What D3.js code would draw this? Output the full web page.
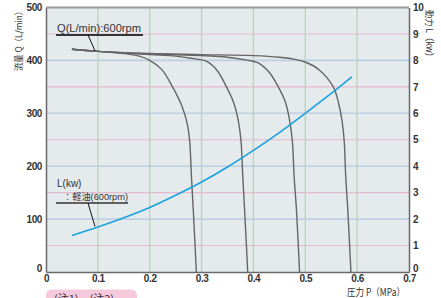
<!DOCTYPE html>
<html><head><meta charset="utf-8">
<script src="https://cdn.jsdelivr.net/npm/d3@7"></script>
<style>
html,body{margin:0;padding:0;background:#fff;}
svg{display:block;}
text{font-family:"Liberation Sans",Arial,"Noto Sans CJK JP",sans-serif;fill:#333;}
.cjk{font-family:"Noto Sans CJK JP",sans-serif;}
</style></head>
<body><svg id="c" width="441" height="298"></svg>
<script>
// ---- data ----
const xTicks = [0, 0.1, 0.2, 0.3, 0.4, 0.5, 0.6, 0.7];
const xTickLabels = ["0", "0.1", "0.2", "0.3", "0.4", "0.5", "0.6", "0.7"];
const yTicks = [0, 100, 200, 300, 400, 500];
const y2Ticks = [0, 1, 2, 3, 4, 5, 6, 7, 8, 9, 10];
const flow1 = [[0.05,421],[0.1,417],[0.15,413],[0.18,408],[0.2,400],[0.223,383],[0.244,350],[0.262,314],[0.272,282],[0.277,248],[0.2805,180],[0.284,117],[0.29,0]];
const flow2 = [[0.05,421],[0.1,417],[0.2,411],[0.25,408],[0.28,404],[0.31,398],[0.33,381],[0.348,350],[0.362,320],[0.371,285],[0.376,248],[0.3795,180],[0.383,117],[0.389,0]];
const flow3 = [[0.05,421],[0.1,417],[0.2,412],[0.3,409],[0.35,406],[0.385,401],[0.41,395],[0.43,378],[0.448,350],[0.462,320],[0.47,285],[0.475,248],[0.4785,180],[0.483,117],[0.489,0]];
const flow4 = [[0.05,421],[0.1,417],[0.2,413],[0.3,411],[0.4,409],[0.45,406],[0.48,402],[0.502,396],[0.527,382],[0.554,350],[0.564,320],[0.571,285],[0.575,248],[0.578,180],[0.582,117],[0.588,0]];
const powerL = [[0.05,1.38],[0.1,1.7],[0.15,2.05],[0.2,2.44],[0.25,2.9],[0.3,3.4],[0.35,3.97],[0.4,4.6],[0.45,5.27],[0.5,6.0],[0.55,6.75],[0.59,7.38]];

const svg = d3.select("#c");
const x = d3.scaleLinear().domain([0, 0.7]).range([46, 409]);
const y = d3.scaleLinear().domain([0, 500]).range([272, 7.5]);
const y2 = d3.scaleLinear().domain([0, 10]).range([272, 7.5]);

// background
svg.append("rect").attr("x", x(0)).attr("y", y(500)).attr("width", x(0.7)-x(0)).attr("height", y(0)-y(500)).attr("fill", "#e5eaed");

// grid
const hg = d3.range(50, 500, 50);
svg.append("g").selectAll("line").data(hg).join("line")
  .attr("x1", x(0)).attr("x2", x(0.7)).attr("y1", d=>y(d)).attr("y2", d=>y(d))
  .attr("stroke", d => d % 100 === 0 ? "#bccfe4" : "#e6b9cf").attr("stroke-width", d => d % 100 === 0 ? 1.6 : 1.1);
svg.append("g").selectAll("line").data(xTicks.slice(1, -1)).join("line")
  .attr("x1", d=>x(d)).attr("x2", d=>x(d)).attr("y1", y(500)).attr("y2", y(0))
  .attr("stroke", "#b6d6b2").attr("stroke-width", 1.3);

// frame
svg.append("line").attr("x1", x(0)).attr("x2", x(0.7)).attr("y1", y(500)).attr("y2", y(500)).attr("stroke", "#9a9a9a").attr("stroke-width", 2);

// axes
const fmt = d3.format("d");
const ax = svg.append("g").attr("transform", `translate(0,${y(0)})`)
  .call(d3.axisBottom(x).tickValues(xTicks).tickFormat((d,i)=>xTickLabels[i]).tickSize(0).tickPadding(4));
const ayl = svg.append("g").attr("transform", `translate(${x(0)},0)`)
  .call(d3.axisLeft(y).tickValues(yTicks).tickFormat(fmt).tickSize(0).tickPadding(4));
const ayr = svg.append("g").attr("transform", `translate(${x(0.7)},0)`)
  .call(d3.axisRight(y2).tickValues(y2Ticks).tickFormat(fmt).tickSize(0).tickPadding(4));
[ax, ayl, ayr].forEach(g => {
  g.select(".domain").attr("stroke", "#6a6a6a").attr("stroke-width", 1.5);
  g.selectAll("text").attr("font-size", 10).attr("fill", "#333").attr("font-weight", "bold").style("letter-spacing", "-0.4px");
});
ax.selectAll("text").attr("dy", "0.55em");
ayl.selectAll(".tick").filter(d => d === 0).select("text").attr("dy", "-0.05em");
ayr.selectAll(".tick").filter(d => d === 0).select("text").attr("dy", "-0.05em");

// curves
const line = d3.line().x(d=>x(d[0])).y(d=>y(d[1])).curve(d3.curveCatmullRom.alpha(0.5));
[flow1, flow2, flow3, flow4].forEach(f => {
  svg.append("path").datum(f).attr("d", line).attr("fill", "none").attr("stroke", "#666").attr("stroke-width", 1.4);
});
const lineL = d3.line().x(d=>x(d[0])).y(d=>y2(d[1])).curve(d3.curveMonotoneX);
svg.append("path").datum(powerL).attr("d", lineL).attr("fill", "none").attr("stroke", "#1ba1de").attr("stroke-width", 1.6);

// annotations
svg.append("text").attr("x", 57).attr("y", 32).attr("font-size", 11).attr("textLength", 84).attr("lengthAdjust", "spacingAndGlyphs").attr("fill", "#333").text("Q(L/min):600rpm");
svg.append("line").attr("x1", 56).attr("x2", 143).attr("y1", 35).attr("y2", 35).attr("stroke", "#333").attr("stroke-width", 1.8);
svg.append("line").attr("x1", 88).attr("x2", 95).attr("y1", 35).attr("y2", y(418)).attr("stroke", "#111").attr("stroke-width", 1);

svg.append("text").attr("x", 57).attr("y", 187).attr("font-size", 10).attr("fill", "#333").text("L(kw)");
svg.append("text").attr("x", 63).attr("y", 200).attr("font-size", 9).attr("textLength", 65).attr("lengthAdjust", "spacingAndGlyphs").attr("fill", "#333")
  .html('<tspan class="cjk">：軽油</tspan><tspan>(600rpm)</tspan>');
svg.append("line").attr("x1", 56).attr("x2", 128).attr("y1", 203).attr("y2", 203).attr("stroke", "#333").attr("stroke-width", 1.3);
svg.append("line").attr("x1", 88).attr("x2", 95).attr("y1", 203).attr("y2", y2(1.72)).attr("stroke", "#111").attr("stroke-width", 1);

// axis titles
svg.append("text").attr("class", "cjk").attr("transform", `translate(22,71) rotate(-90)`)
  .attr("font-size", 9).attr("textLength", 64).attr("lengthAdjust", "spacingAndGlyphs").attr("fill", "#333").text("流量 Q（L/min）");
svg.append("text").attr("class", "cjk").attr("transform", `translate(426,10) rotate(90)`)
  .attr("font-size", 9.5).attr("textLength", 51).attr("lengthAdjust", "spacingAndGlyphs").attr("fill", "#333").text("動力 L（kw）");
svg.append("text").attr("class", "cjk").attr("x", 347).attr("y", 296)
  .attr("font-size", 10).attr("textLength", 58).attr("lengthAdjust", "spacingAndGlyphs").attr("fill", "#333").text("圧力 P（MPa）");

// note badge (partly cut off at bottom edge, as in the reference)
svg.append("rect").attr("x", 46).attr("y", 289.5).attr("width", 91).attr("height", 16).attr("rx", 6).attr("fill", "#f6c9dd");
svg.append("text").attr("class", "cjk").attr("x", 54).attr("y", 302.5).attr("font-size", 11).attr("fill", "#333").text("(注1)、(注2)");
</script>
</body></html>
